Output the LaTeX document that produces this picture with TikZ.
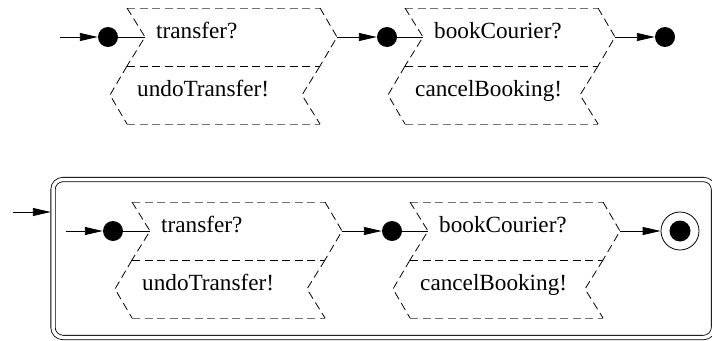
\documentclass[tikz,border=0pt]{standalone}
\usepackage{fontspec}
\setmainfont{Liberation Serif}
\usetikzlibrary{arrows.meta}

\tikzset{
    dot/.style={circle,fill,minimum size=20pt,inner sep=0pt},
    arr/.style={line width=0.9pt,-{Triangle[length=18pt,width=8pt]}},
    plain/.style={line width=0.9pt},
    chev/.style={line width=0.8pt,dash pattern=on 8pt off 4.5pt},
    chevedge/.style={chev,black!55},
    lbl/.style={inner sep=0pt,anchor=base west}
}

\newcommand{\actpair}[4]{%
    \begin{scope}[shift={#2}]
    \draw[chevedge] (0,0) -- (193,0);
    \draw[chevedge] (0,116) -- (193,116);
    \draw[chev] (0,58) -- (193,58);
    \draw[chev] (0,0) -- (18,29) -- (0,58);
    \draw[chev] (193,0) -- (210,29) -- (193,58);
    \draw[chev] (0,58) -- (-17,87) -- (0,116);
    \draw[chev] (193,58) -- (175,87) -- (193,116);
    \coordinate (#1-in) at (18,29);
    \coordinate (#1-out) at (210,29);
    \node[lbl] (#1-do) at (29,30) {#3};
    \node[lbl] (#1-undo) at (10,88.5) {#4};
    \end{scope}}

\begin{document}
\begin{tikzpicture}[x=1pt,y=-1pt,font=\rmfamily\fontsize{23.2}{28}\selectfont]
    \useasboundingbox (0,0) rectangle (712,340);

    \actpair{pay}{(127,8)}{transfer?}{undoTransfer!}
    \actpair{ship}{(405,8)}{bookCourier?}{cancelBooking!}
    \coordinate (start) at (60,37);
    \node[dot] (d0) at (108,37) {};
    \node[dot] (d1) at (387,37) {};
    \node[dot] (d2) at (665,37) {};
    \draw[arr] (start) -- (d0);
    \draw[plain] (d0) -- (pay-in);
    \draw[arr] (pay-out) -- (d1);
    \draw[plain] (d1) -- (ship-in);
    \draw[arr] (ship-out) -- (d2);

    \draw[double,double distance=3.5pt,line width=0.8pt,rounded corners=10pt]
        (53,179.5) rectangle (713.5,337.5);
    \coordinate (scope-w) at (50.8,212);
    \coordinate (entry) at (13,212);
    \draw[arr] (entry) -- (scope-w);

    \actpair{spay}{(132,202)}{transfer?}{undoTransfer!}
    \actpair{sship}{(410,202)}{bookCourier?}{cancelBooking!}
    \coordinate (sstart) at (66,231);
    \node[dot] (e0) at (113,231) {};
    \node[dot] (e1) at (392,231) {};
    \node[draw,circle,line width=0.8pt,minimum size=38pt,inner sep=0pt] (fin) at (680,231) {};
    \node[dot,minimum size=21pt] (fin-dot) at (fin) {};
    \draw[arr] (sstart) -- (e0);
    \draw[plain] (e0) -- (spay-in);
    \draw[arr] (spay-out) -- (e1);
    \draw[plain] (e1) -- (sship-in);
    \draw[arr] (sship-out) -- (fin);
\end{tikzpicture}
\end{document}
